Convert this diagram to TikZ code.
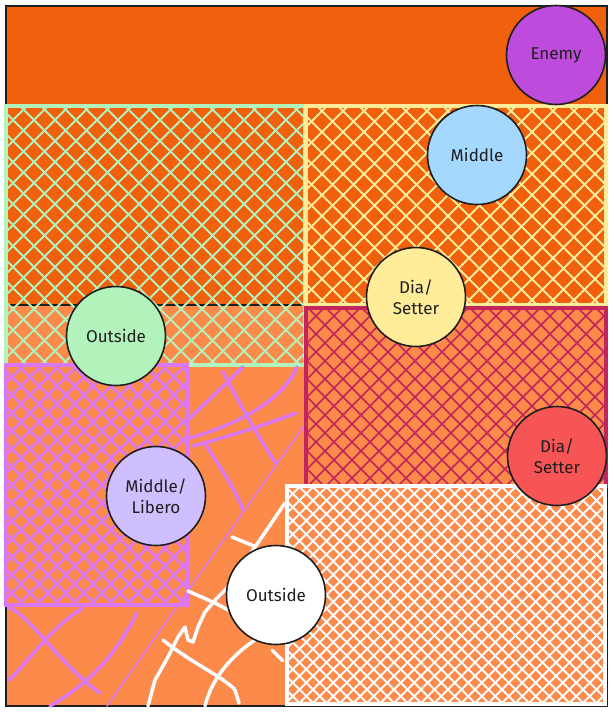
\documentclass[tikz,border=0pt]{standalone}
\usepackage{fontspec}
\setmainfont{Fira Sans}
\definecolor{ink}{HTML}{1E1E1E}
\definecolor{darkor}{HTML}{F0600D}
\definecolor{lightor}{HTML}{FC8A4B}
\definecolor{greenc}{HTML}{B2F2BB}
\definecolor{yellowc}{HTML}{FFEC99}
\definecolor{crimc}{HTML}{C2255C}
\definecolor{pinkc}{HTML}{DA77F2}
\definecolor{enemyc}{HTML}{BE4BDB}
\definecolor{bluec}{HTML}{A5D8FF}
\definecolor{lilac}{HTML}{D0BFFF}
\definecolor{redc}{HTML}{F75555}
% #1 x1, #2 y1, #3 x2, #4 y2, #5 horizontal step, #6 colour, #7 hatch width
\newcommand\myhatch[7]{%
  \begin{scope}
    \clip (#1,#2) rectangle (#3,#4);
    \foreach \k in {0,...,100}{%
      \pgfmathsetmacro\cc{#1-#4+\k*#5}%
      \draw[draw=#6,line width=#7] (\cc+#2,#2) -- (\cc+#4,#4);
      \pgfmathsetmacro\dd{#1+#2+\k*#5}%
      \draw[draw=#6,line width=#7] (\dd-#2,#2) -- (\dd-#4,#4);
    }
  \end{scope}}
\tikzset{
  player/.style={circle, draw=ink, line width=1.6pt, minimum size=99pt, inner sep=0pt,
    align=center, text=ink, font=\fontsize{17}{21}\selectfont},
  zoneborder/.style={line width=3.5pt},
  rough/.style={line width=3.5pt, line cap=round, line join=round},
  thinrough/.style={line width=1.6pt, line cap=round},
}
\begin{document}
\begin{tikzpicture}[x=1pt,y=-1pt]
  \useasboundingbox (0,0) rectangle (614,713);
  \fill[white] (0,0) rectangle (614,713);
  % court halves
  \fill[darkor] (6,6) rectangle (607,305);
  \fill[lightor] (6,305) rectangle (607,706);
  \draw[ink, line width=2pt] (6,6) rectangle (607,305);
  \draw[ink, line width=2pt] (6,305) rectangle (607,706);
  % green zone
  \myhatch{6}{106}{305}{365}{21}{greenc}{2pt}
  \draw[greenc, zoneborder] (6,106) rectangle (305,365);
  % yellow zone
  \myhatch{306}{106}{606}{305}{21}{yellowc}{2pt}
  \draw[yellowc, zoneborder] (306,106) rectangle (606,305);
  % crimson zone
  \myhatch{306}{308}{606}{486}{18}{crimc}{1.7pt}
  \draw[crimc, zoneborder] (306,308) rectangle (606,486);
  % pink zone
  \myhatch{6}{365}{187}{605}{18}{pinkc}{2.5pt}
  \draw[pinkc, zoneborder] (6,365) rectangle (187,605);
  % pink loose strokes
  \begin{scope}[pinkc]
    \draw[rough] (188,420) -- (243,367);
    \draw[rough] (223,372) .. controls (238,400) and (255,432) .. (277,465);
    \draw[rough] (190,438) .. controls (235,425) and (282,402) .. (297,367);
    \draw[rough] (193,446) .. controls (230,436) and (265,425) .. (296,413);
    \draw[rough] (205,443) .. controls (220,468) and (235,488) .. (243,510);
    \draw[rough] (8,607) .. controls (30,615) and (60,665) .. (100,693);
    \draw[rough] (83,608) .. controls (50,628) and (30,660) .. (9,680);
    \draw[rough] (137,613) .. controls (118,650) and (95,680) .. (50,706);
    \draw[thinrough] (107,706) -- (303,427);
  \end{scope}
  % white zone
  \myhatch{287}{486}{605}{704}{13.5}{white}{1.8pt}
  \draw[white, zoneborder] (287,486) rectangle (605,704);
  % white loose strokes
  \begin{scope}[white]
    \draw[rough] (148,706) -- (155,680) -- (168,657) -- (178,637) -- (185,627)
      -- (188,640) -- (193,642) -- (198,627) -- (205,612) -- (217,598)
      -- (228,587) -- (285,503);
    \draw[rough] (205,706) .. controls (210,685) and (225,660) .. (255,640);
    \draw[rough] (232,537) -- (254,546);
    \draw[rough] (188,591) -- (215,603) -- (232,612);
    \draw[rough] (163,640) .. controls (190,662) and (225,678) .. (235,690) -- (239,703);
    \draw[rough] (272,650) -- (283,661);
  \end{scope}
  % players
  \node[player, fill=enemyc] (enemy) at (556,55) {Enemy};
  \node[player, fill=bluec] (middle) at (477,155) {Middle};
  \node[player, fill=yellowc] (diaA) at (416,297) {Dia/\\Setter};
  \node[player, fill=greenc] (outsideA) at (116,336) {Outside};
  \node[player, fill=lilac] (libero) at (156,496) {Middle/\\Libero};
  \node[player, fill=redc] (diaB) at (557,456) {Dia/\\Setter};
  \node[player, fill=white] (outsideB) at (276,595) {Outside};
\end{tikzpicture}
\end{document}
